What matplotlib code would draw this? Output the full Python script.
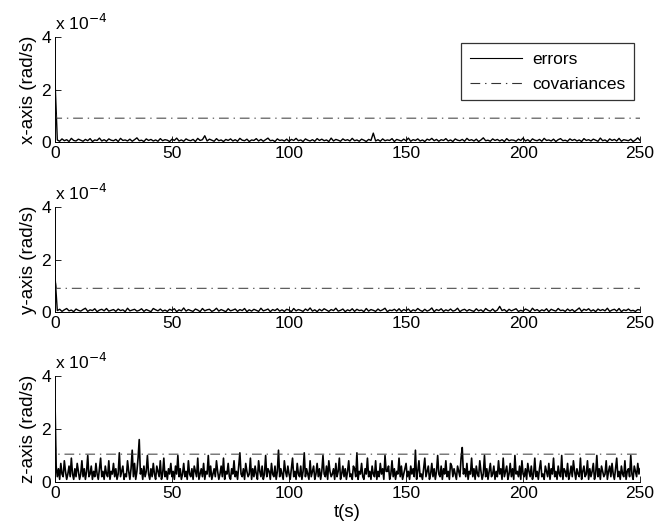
import numpy as np
import matplotlib
matplotlib.use("Agg")
import matplotlib.pyplot as plt

plt.rcParams['font.family'] = ['Liberation Sans', 'DejaVu Sans']
plt.rcParams['lines.scale_dashes'] = False

# x/y errors: 1 s steps, units of 1e-6 rad/s (estimated)
err_x = [240, 8, 3, 12, 5, 9, 2, 14, 6, 4, 11, 7, 3, 10, 5, 13, 2, 8, 6, 15, 4, 9, 3, 12, 7,
         5, 10, 2, 14, 6, 8, 4, 11, 3, 9, 16, 5, 7, 2, 12, 6, 10, 4, 8, 3, 13, 5, 9, 7, 2,
         11, 6, 15, 4, 8, 3, 12, 7, 5, 10, 2, 14, 6, 9, 24, 4, 11, 7, 3, 13, 5, 8, 2, 10, 6,
         12, 4, 9, 3, 14, 7, 5, 11, 2, 8, 6, 13, 4, 10, 3, 9, 15, 5, 7, 2, 12, 6, 8, 4, 11,
         3, 10, 6, 14, 5, 8, 2, 12, 7, 4, 9, 3, 13, 6, 11, 5, 8, 2, 15, 4, 10, 7, 3, 12, 6,
         9, 4, 14, 5, 8, 3, 11, 7, 2, 10, 6, 34, 4, 9, 3, 12, 5, 8, 6, 13, 2, 10, 7, 4, 11,
         5, 15, 3, 9, 6, 12, 4, 8, 2, 11, 7, 14, 5, 10, 3, 9, 6, 13, 4, 8, 2, 12, 7, 5, 10,
         3, 14, 6, 9, 4, 11, 2, 8, 16, 5, 7, 3, 12, 6, 10, 4, 9, 2, 13, 5, 8, 7, 3, 11, 6,
         15, 4, 9, 2, 12, 7, 5, 10, 3, 14, 6, 8, 4, 11, 2, 9, 13, 5, 7, 3, 12, 6, 10, 4, 8,
         2, 13, 6, 9, 4, 11, 7, 3, 15, 5, 8, 2, 12, 6, 10, 4, 14, 3, 9, 7, 5, 11, 2, 8, 16,
         6]

err_y = [140, 6, 11, 3, 9, 14, 5, 8, 2, 12, 7, 4, 10, 15, 3, 9, 6, 13, 2, 8, 11, 5, 14, 4, 7,
         10, 3, 12, 6, 9, 2, 15, 5, 8, 11, 4, 7, 13, 3, 10, 6, 2, 14, 9, 5, 12, 4, 8, 3, 11,
         7, 13, 2, 9, 5, 16, 4, 10, 6, 3, 12, 8, 2, 14, 5, 9, 11, 3, 7, 15, 4, 10, 6, 2, 13,
         5, 8, 12, 3, 10, 6, 14, 2, 9, 4, 11, 7, 3, 15, 5, 8, 12, 2, 10, 6, 13, 4, 9, 3, 11,
         8, 2, 14, 5, 10, 7, 3, 12, 6, 16, 4, 9, 2, 11, 5, 13, 8, 3, 10, 6, 15, 4, 7, 12, 2,
         9, 5, 13, 3, 11, 6, 8, 2, 14, 4, 10, 7, 3, 12, 5, 9, 15, 2, 8, 6, 11, 4, 13, 3, 10,
         6, 12, 2, 9, 5, 14, 7, 3, 11, 4, 8, 16, 2, 10, 6, 13, 3, 9, 5, 12, 4, 7, 15, 2, 8,
         11, 4, 10, 6, 3, 13, 5, 9, 2, 14, 7, 4, 12, 3, 8, 22, 6, 10, 2, 11, 5, 9, 13, 3, 7,
         4, 12, 8, 2, 15, 6, 10, 3, 9, 5, 13, 2, 11, 7, 4, 14, 6, 8, 3, 12, 5, 10, 2, 9, 16,
         3, 11, 7, 13, 4, 9, 2, 12, 6, 10, 5, 15, 3, 8, 11, 4, 14, 2, 9, 6, 12, 5, 7, 3, 10,
         8]

# z errors: 0.5 s steps, units of 1e-5 rad/s (estimated)
err_z = [31, 6, 2, 5, 1, 7, 3, 2, 8, 4, 1, 3, 6, 2, 9, 3, 1, 5, 2, 7, 4, 1, 3, 8, 2,
         5, 1, 4, 10, 2, 3, 6, 1, 4, 2, 7, 3, 1, 5, 9, 2, 4, 1, 6, 3, 2, 8, 1, 4, 3,
         7, 2, 5, 1, 3, 11, 2, 4, 6, 1, 3, 2, 8, 4, 1, 5, 12, 2, 7, 1, 4, 9, 16, 3, 5,
         1, 6, 2, 4, 10, 3, 1, 5, 2, 7, 3, 1, 6, 4, 2, 8, 1, 3, 9, 2, 4, 1, 5, 3, 7,
         2, 4, 1, 6, 3, 10, 2, 5, 1, 3, 7, 2, 4, 1, 8, 3, 2, 5, 1, 6, 4, 2, 9, 1, 3,
         5, 2, 7, 1, 4, 3, 10, 2, 6, 1, 3, 5, 2, 8, 4, 1, 3, 6, 2, 9, 1, 4, 3, 7, 2,
         1, 5, 3, 8, 2, 4, 1, 6, 11, 3, 2, 5, 1, 7, 4, 2, 3, 9, 1, 5, 2, 6, 3, 1, 8,
         4, 2, 6, 1, 3, 10, 2, 5, 4, 1, 7, 3, 2, 6, 1, 4, 12, 2, 5, 3, 1, 8, 4, 2, 6,
         3, 1, 5, 9, 2, 4, 1, 7, 3, 2, 6, 1, 4, 11, 2, 5, 3, 1, 8, 2, 4, 6, 1, 3, 7,
         2, 5, 1, 4, 10, 3, 2, 6, 1, 8, 4, 2, 3, 5, 1, 7, 2, 4, 9, 1, 3, 6, 2, 5, 1,
         4, 8, 2, 3, 1, 6, 5, 2, 11, 1, 4, 3, 7, 2, 1, 5, 3, 9, 2, 4, 1, 6, 3, 2, 8,
         1, 4, 2, 7, 3, 5, 1, 10, 4, 4, 6, 1, 3, 8, 2, 5, 1, 4, 3, 9, 2, 6, 1, 3, 5,
         7, 2, 4, 1, 6, 3, 5, 2, 12, 1, 4, 8, 2, 3, 1, 5, 9, 2, 4, 6, 1, 3, 7, 2, 5,
         1, 4, 10, 3, 2, 6, 1, 5, 3, 8, 2, 4, 1, 7, 6, 2, 5, 3, 1, 6, 4, 2, 9, 13, 3,
         5, 2, 7, 1, 4, 3, 9, 2, 5, 1, 6, 3, 2, 8, 4, 1, 3, 10, 2, 5, 1, 4, 7, 2, 3,
         6, 1, 4, 2, 8, 3, 5, 1, 9, 2, 4, 6, 1, 3, 7, 2, 5, 1, 10, 3, 4, 2, 6, 1, 8,
         3, 2, 5, 1, 7, 4, 2, 6, 1, 3, 9, 2, 4, 1, 5, 8, 2, 3, 1, 6, 4, 2, 7, 1, 5,
         3, 9, 2, 4, 1, 6, 3, 2, 10, 1, 5, 4, 2, 7, 1, 3, 6, 2, 8, 4, 1, 5, 3, 2, 9,
         1, 4, 6, 2, 3, 8, 1, 5, 2, 4, 7, 1, 3, 10, 2, 5, 1, 6, 4, 2, 3, 8, 1, 4, 6,
         2, 7, 3, 1, 5, 9, 2, 4, 1, 6, 3, 2, 8, 1, 4, 5, 2, 10, 3, 1, 6, 4, 2, 7, 3,
         5]

# covariance curves, units of 1e-5 rad/s (estimated breakpoints)
cov_t = [0, 0.15, 0.6, 250]
cov_x = [26.5, 12, 9.1, 9.1]
cov_y = [27, 12, 9.1, 9.1]
cov_z = [31, 14, 10.5, 10.5]

ylabels = ['x-axis (rad/s)', 'y-axis (rad/s)', 'z-axis (rad/s)']
xticks = [0, 50, 100, 150, 200, 250]
yticks = [0, 2e-4, 4e-4]
ytick_labels = ['0', '2', '4']

fig = plt.figure(figsize=(6.56, 5.30), dpi=100)
positions = [
    [0.0838, 0.732, 0.892, 0.198],
    [0.0838, 0.411, 0.892, 0.198],
    [0.0838, 0.0906, 0.892, 0.2],
]

errs = [(err_x, 1e-6), (err_y, 1e-6), (err_z, 1e-5)]
covs = [cov_x, cov_y, cov_z]
FS = 12.5
LFS = 13.5

for i, (pos, (err, sc), cov, yl) in enumerate(zip(positions, errs, covs, ylabels)):
    ax = fig.add_axes(pos)
    e = np.array(err, dtype=float) * sc
    t = np.linspace(0, 250, len(e))
    l1, = ax.plot(t, e, color='black', lw=1.0 if i < 2 else 1.2, label='errors')
    l2, = ax.plot(cov_t, np.array(cov) * 1e-5, color='#333333', lw=0.7,
                  dashes=(7, 3.5, 1, 3.5), label='covariances')
    ax.set_xlim(0, 250)
    ax.set_ylim(0, 4e-4)
    ax.set_xticks(xticks)
    ax.set_xticklabels([str(v) for v in xticks])
    ax.set_yticks(yticks)
    ax.set_yticklabels(ytick_labels)
    ax.tick_params(direction='in', length=4, width=0.6, labelsize=FS, pad=3)
    ax.spines['top'].set_visible(False)
    ax.spines['right'].set_visible(False)
    ax.spines['left'].set_linewidth(0.7)
    ax.spines['bottom'].set_linewidth(0.7)
    ax.set_ylabel(yl, fontsize=LFS, labelpad=3)
    ax.text(0.0, 1.04, r'x 10$^{-4}$', transform=ax.transAxes, fontsize=FS,
            ha='left', va='bottom')
    if i == 0:
        leg = ax.legend(handles=[l1, l2], loc='upper right',
                        bbox_to_anchor=(0.99, 0.943), borderaxespad=0,
                        fontsize=FS, frameon=True, fancybox=False,
                        handlelength=3.0, borderpad=0.5, labelspacing=0.55,
                        handletextpad=0.6)
        leg.get_frame().set_edgecolor('black')
        leg.get_frame().set_linewidth(0.9)
        for h in leg.get_lines():
            h.set_linewidth(0.8)
    if i == 2:
        ax.set_xlabel('t(s)', fontsize=LFS, labelpad=2)

fig.savefig('out.png', dpi=100)
